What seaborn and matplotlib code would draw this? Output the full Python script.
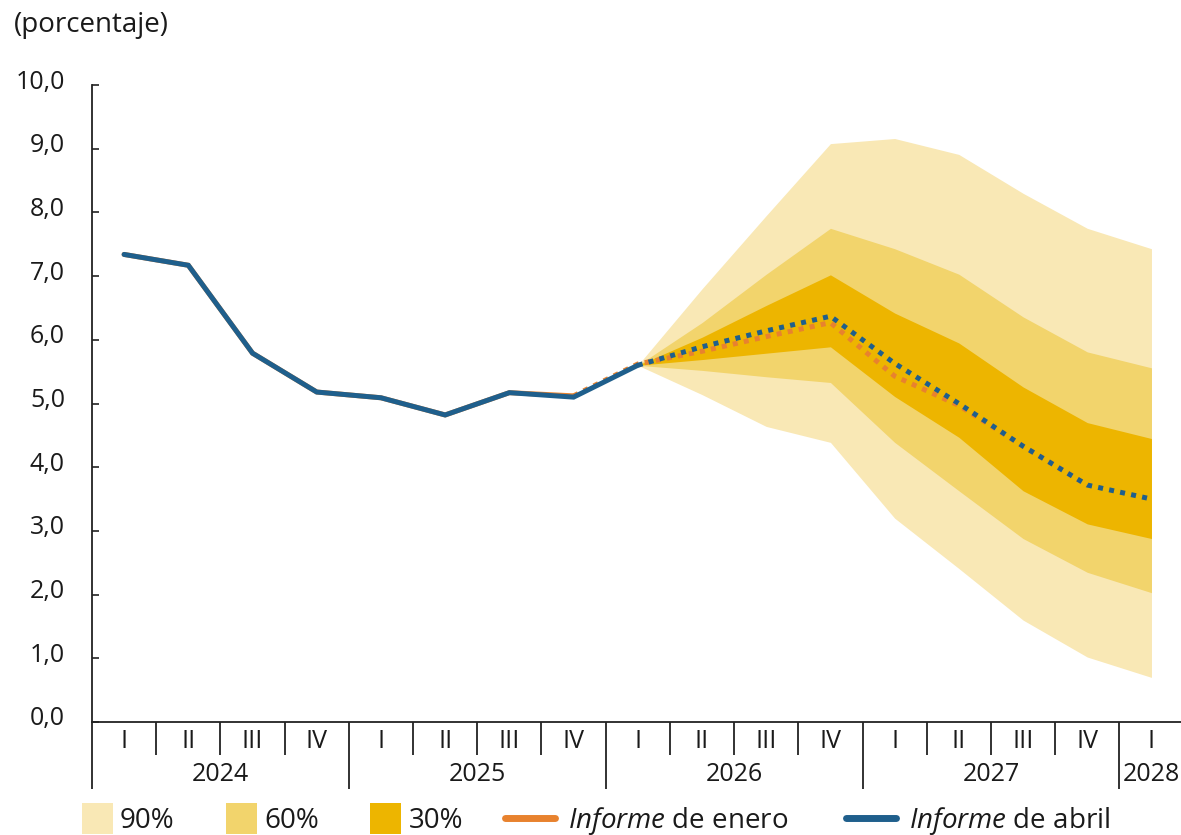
import matplotlib
matplotlib.use("Agg")
import matplotlib.pyplot as plt
import seaborn as sns
import numpy as np
import pandas as pd
from matplotlib.patches import Rectangle, Patch
from matplotlib.lines import Line2D
from matplotlib.legend_handler import HandlerPatch
from matplotlib.transforms import ScaledTranslation

# ---------------- data ----------------
quarters = ["I", "II", "III", "IV"] * 4 + ["I"]
years = ["2024", "2025", "2026", "2027", "2028"]
year_centers = [1.5, 5.5, 9.5, 13.5, 16.0]
year_bounds = [-0.5, 3.5, 7.5, 11.5, 15.5]

history = [7.34, 7.17, 5.79, 5.18, 5.09, 4.82, 5.17, 5.10, 5.60]           # 2024 I - 2026 I
april_fc = [5.60, 5.89, 6.14, 6.37, 5.63, 5.00, 4.33, 3.72, 3.50]           # 2026 I - 2028 I
january_hist = [7.34, 7.17, 5.79, 5.18, 5.09, 4.82, 5.17, 5.12]             # 2024 I - 2025 IV
january_fc = [5.12, 5.62, 5.82, 6.05, 6.27, 5.43, 4.97, 4.33, 3.72]         # 2025 IV - 2027 IV

band90_hi = [5.60, 6.80, 7.95, 9.08, 9.16, 8.91, 8.30, 7.75, 7.43]
band90_lo = [5.60, 5.14, 4.64, 4.39, 3.20, 2.41, 1.60, 1.02, 0.70]
band60_hi = [5.60, 6.27, 7.03, 7.75, 7.43, 7.03, 6.36, 5.81, 5.56]
band60_lo = [5.60, 5.52, 5.42, 5.33, 4.39, 3.63, 2.88, 2.35, 2.03]
band30_hi = [5.60, 6.04, 6.54, 7.02, 6.42, 5.95, 5.26, 4.70, 4.45]
band30_lo = [5.60, 5.69, 5.79, 5.89, 5.11, 4.47, 3.63, 3.11, 2.88]

y_ticks = [0, 1, 2, 3, 4, 5, 6, 7, 8, 9, 10]
y_tick_labels = ["0,0", "1,0", "2,0", "3,0", "4,0", "5,0", "6,0", "7,0", "8,0", "9,0", "10,0"]

band_labels = ["90%", "60%", "30%"]
line_labels = ["$\\it{Informe}$ de enero", "$\\it{Informe}$ de abril"]

# ---------------- style ----------------
sns.set_style("white")
FONT = "Open Sans"
plt.rcParams["font.family"] = [FONT, "DejaVu Sans"]
plt.rcParams["mathtext.fontset"] = "custom"
plt.rcParams["mathtext.it"] = f"{FONT}:italic"
plt.rcParams["mathtext.rm"] = FONT
plt.rcParams["mathtext.bf"] = f"{FONT}:bold"

C90, C60, C30 = "#F9E8B5", "#F2D46C", "#EDB500"
BLUE, ORANGE = "#1F5F8C", "#E8822E"
TXT = "#1a1a1a"
FS = 18
FSL = 20

W, H = 1181, 835
fig = plt.figure(figsize=(W / 100, H / 100), dpi=100)
ax = fig.add_axes([92 / W, (H - 722) / H, 1 - 92 / W, (722 - 85) / H])

x_hist = np.arange(len(history))
x_fc = np.arange(8, 8 + len(april_fc))
x_jh = np.arange(len(january_hist))
x_jf = np.arange(7, 7 + len(january_fc))

# fan chart
ax.fill_between(x_fc, band90_lo, band90_hi, color=C90, lw=0, zorder=1)
ax.fill_between(x_fc, band60_lo, band60_hi, color=C60, lw=0, zorder=2)
ax.fill_between(x_fc, band30_lo, band30_hi, color=C30, lw=0, zorder=3)

LW = 3.6
dots = (0, (1.0, 1.25))
df_jh = pd.DataFrame({"x": x_jh, "y": january_hist})
df_jf = pd.DataFrame({"x": x_jf, "y": january_fc})
df_h = pd.DataFrame({"x": x_hist, "y": history})
df_f = pd.DataFrame({"x": x_fc, "y": april_fc})
sns.lineplot(data=df_jh, x="x", y="y", ax=ax, color=ORANGE, lw=LW, zorder=4)
sns.lineplot(data=df_jf, x="x", y="y", ax=ax, color=ORANGE, lw=LW, zorder=4,
             linestyle=dots, dash_capstyle="butt")
sns.lineplot(data=df_h, x="x", y="y", ax=ax, color=BLUE, lw=LW, zorder=5,
             solid_capstyle="round", solid_joinstyle="miter")
sns.lineplot(data=df_f, x="x", y="y", ax=ax, color=BLUE, lw=LW, zorder=5,
             linestyle=dots, dash_capstyle="butt")

ax.set_xlim(-0.5, 16.46)
ax.set_ylim(0, 10)
ax.set_xlabel("")
ax.set_ylabel("")

# y axis
ax.set_yticks(y_ticks)
ax.set_yticklabels(y_tick_labels, fontsize=FS, color=TXT)
ax.tick_params(axis="y", direction="in", length=5, width=1.2, color="#222", pad=19.5, left=True)
shift = ScaledTranslation(0, 6 / 100, fig.dpi_scale_trans)
for lab in ax.get_yticklabels():
    lab.set_transform(lab.get_transform() + shift)

# x axis: quarter labels + short ticks at quarter boundaries
ax.set_xticks(np.arange(len(quarters)))
ax.set_xticklabels(quarters, fontsize=FS, color=TXT)
ax.tick_params(axis="x", which="major", length=0, pad=5)
ax.set_xticks([b for b in np.arange(0.5, 16, 1.0) if b not in year_bounds], minor=True)
ax.tick_params(axis="x", which="minor", direction="out", length=24, width=1.3, color="#222", bottom=True)

for s in ["top", "right"]:
    ax.spines[s].set_visible(False)
for s in ["left", "bottom"]:
    ax.spines[s].set_color("#222")
    ax.spines[s].set_linewidth(1.3)

# years on a secondary axis
sec = ax.secondary_xaxis("bottom")
sec.set_xticks(year_centers)
sec.set_xticklabels(years, fontsize=FS, color=TXT)
sec.tick_params(axis="x", which="major", length=0, pad=29)
sec.set_xticks(year_bounds, minor=True)
sec.tick_params(axis="x", which="minor", direction="out", length=48, width=1.3, color="#222")
sec.spines["bottom"].set_visible(False)

# unit label
fig.text(14 / W, 1 - 25 / H, "(porcentaje)", fontsize=FSL, color=TXT, va="center", ha="left")

# legends
def square(legend, orig_handle, xdescent, ydescent, width, height, fontsize):
    s = 31 / 100 * 72
    return Rectangle((-xdescent, -ydescent + height / 2 - s / 2), s, s)

band_handles = [Patch(color=c, lw=0) for c in (C90, C60, C30)]
leg1 = fig.legend(band_handles, band_labels, loc="center left",
                  bbox_to_anchor=(82 / W, 1 - 821 / H), ncol=3, frameon=False,
                  fontsize=FSL, handlelength=1.12, handleheight=0.7, handletextpad=0.25,
                  columnspacing=1.85, borderpad=0, borderaxespad=0,
                  handler_map={Patch: HandlerPatch(patch_func=square)})
for t in leg1.get_texts():
    t.set_color(TXT)

line_handles = [Line2D([], [], color=ORANGE, lw=5), Line2D([], [], color=BLUE, lw=5)]
leg2 = fig.legend(line_handles, line_labels, loc="center left",
                  bbox_to_anchor=(505 / W, 1 - 821 / H), ncol=2, frameon=False,
                  fontsize=FSL, handlelength=1.8, handletextpad=0.45,
                  columnspacing=2.1, borderpad=0, borderaxespad=0)
for t in leg2.get_texts():
    t.set_color(TXT)

fig.savefig("out.png", dpi=100)
